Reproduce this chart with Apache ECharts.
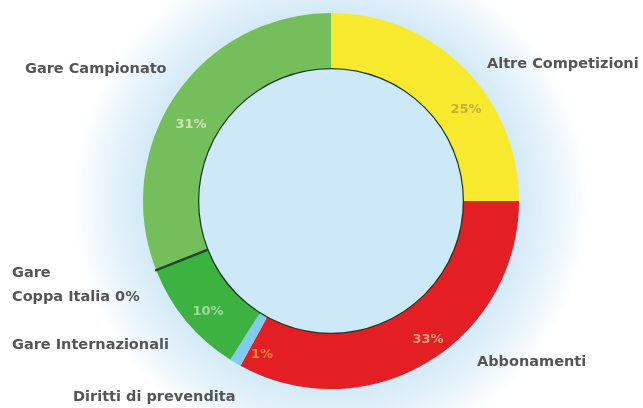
<!DOCTYPE html>
<html>
<head>
<meta charset="utf-8">
<script src="https://cdn.jsdelivr.net/npm/echarts@6/dist/echarts.min.js"></script>
<style>html,body{margin:0;padding:0;background:#fff}#c{width:643px;height:408px}</style>
</head>
<body>
<div id="c"></div>
<script>
var categories = ['Altre Competizioni', 'Abbonamenti', 'Diritti di prevendita', 'Gare Internazionali', 'Gare Coppa Italia', 'Gare Campionato'];
var values = [25, 33, 1, 10, 0, 31];
var colors = ['#f7e92e', '#e31e24', '#82cbee', '#3cb241', '#2f8a35', '#74bf5c'];
var pctColors = ['#c4ae3a', '#f4a07c', '#f08040', '#a6d8a0', '#a6d8a0', '#cfe3b4'];

var CX = 331, CY = 201, R0 = 133, R1 = 188;
// text placement (layout only)
var nameAt = [[487, 64], [477, 362], [73, 397], [12, 345], [12, 285], [25, 69]];
var pctAt = [[466, 110], [428, 340], [262, 355], [208, 312], null, [191, 125]];

var chart = echarts.init(document.getElementById('c'));

function base(z) {
  return {
    type: 'pie', z: z,
    center: [CX, CY], radius: [R0, R1],
    startAngle: 90, clockwise: true,
    avoidLabelOverlap: false, silent: true,
    labelLine: { show: false }
  };
}

var inner = base(2);
inner.itemStyle = { borderWidth: 0 };
inner.label = {
  show: true, position: 'inside',
  formatter: function (p) { return p.value > 0 ? p.value + '%' : ''; },
  fontFamily: 'DejaVu Sans', fontSize: 13, fontWeight: 'bold'
};
inner.labelLayout = function (p) {
  var a = pctAt[p.dataIndex];
  return a ? { x: a[0], y: a[1], align: 'center', verticalAlign: 'middle' } : {};
};
inner.data = categories.map(function (n, i) {
  return { name: n, value: values[i], itemStyle: { color: colors[i] }, label: { color: pctColors[i] } };
});

var outer = base(3);
outer.itemStyle = { color: 'rgba(0,0,0,0)', borderWidth: 0 };
outer.label = {
  show: true, position: 'outside',
  formatter: function (p) {
    return p.value === 0 ? p.name.replace('Gare ', 'Gare\n') + ' ' + p.value + '%' : p.name;
  },
  color: '#555555', fontFamily: 'DejaVu Sans', fontSize: 14.5, fontWeight: 'bold', lineHeight: 24
};
outer.labelLayout = function (p) {
  var a = nameAt[p.dataIndex];
  return { x: a[0], y: a[1], align: 'left', verticalAlign: 'middle' };
};
outer.data = categories.map(function (n, i) {
  var d = { name: n, value: values[i], itemStyle: { color: 'rgba(0,0,0,0)' } };
  if (values[i] === 0) d.itemStyle = { color: 'rgba(0,0,0,0)', borderColor: '#1d4a22', borderWidth: 2.5 };
  return d;
});

chart.setOption({
  backgroundColor: {
    type: 'radial', x: CX, y: CY, r: 300, global: true,
    colorStops: [
      { offset: 0, color: '#c9e6f7' },
      { offset: 0.6, color: '#cfe8f6' },
      { offset: 0.72, color: '#e3f1fa' },
      { offset: 0.86, color: '#ffffff' },
      { offset: 1, color: '#ffffff' }
    ]
  },
  graphic: [{
    type: 'circle', z: 0,
    shape: { cx: CX, cy: CY, r: R0 },
    style: { fill: '#cde8f7', stroke: '#1f3b20', lineWidth: 2.5 }
  }],
  series: [inner, outer]
});
</script>
</body>
</html>
